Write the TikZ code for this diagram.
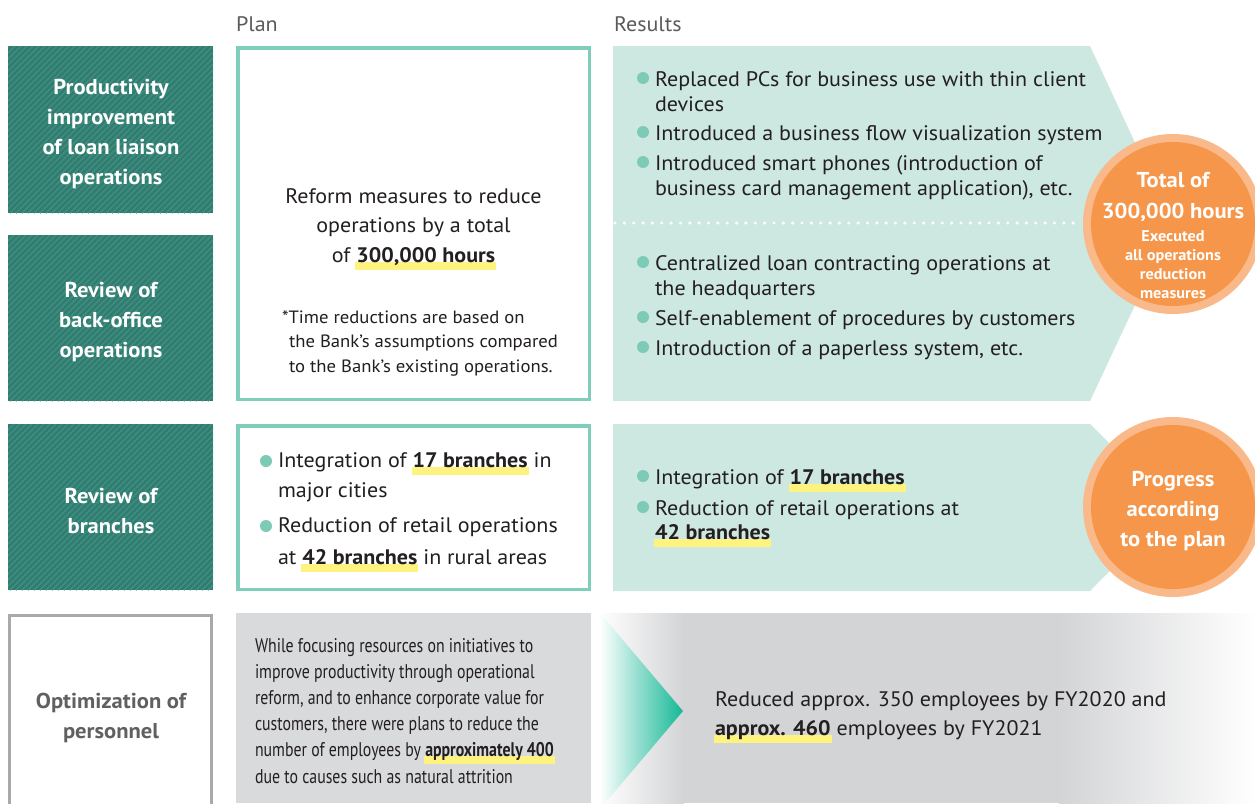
\documentclass[tikz,border=0pt]{standalone}
\usepackage{fontspec}
\setmainfont[FakeStretch=1.05]{PT Sans}
\newfontfamily\condfont[FakeStretch=0.8]{PT Sans}
\definecolor{ink}{RGB}{35,31,32}
\definecolor{labelgray}{RGB}{90,90,90}
\definecolor{tealdark}{RGB}{46,125,112}
\definecolor{tealstripe}{RGB}{64,141,127}
\definecolor{planborder}{RGB}{127,205,187}
\definecolor{resfill}{RGB}{205,232,224}
\definecolor{dotc}{RGB}{125,202,182}
\definecolor{orangein}{RGB}{245,150,74}
\definecolor{orangering}{RGB}{249,185,138}
\definecolor{hly}{RGB}{255,243,128}
\definecolor{grayfill}{RGB}{217,218,220}
\definecolor{graygrad}{RGB}{211,212,214}
\definecolor{grayborder}{RGB}{167,169,172}
\definecolor{graytext}{RGB}{96,96,96}
\definecolor{tritealc}{RGB}{20,184,150}
\newbox\hlbx
\newcommand\hl[1]{\setbox\hlbx=\hbox{#1}\rlap{\kern-1pt\textcolor{hly}{\rule[-7.5pt]{\dimexpr\wd\hlbx+2pt\relax}{8pt}}}\box\hlbx}
\newcommand\TL[2]{\vtop{\baselineskip=#1pt\lineskiplimit=-100pt\lineskip=0pt\halign{##\hfil\cr#2\crcr}}}
\newcommand\TC[2]{\vtop{\baselineskip=#1pt\lineskiplimit=-100pt\lineskip=0pt\halign{\hfil##\hfil\cr#2\crcr}}}
\tikzset{
  txt/.style={inner sep=0pt, outer sep=0pt, text=ink, font=\fontsize{21}{25}\selectfont},
  lt/.style={txt, anchor=base west},
  ct/.style={txt, anchor=base},
  wb/.style={inner sep=0pt, anchor=base, text=white, font=\fontsize{21.5}{30}\selectfont\bfseries},
  bul/.style={fill=dotc},
  hatchbox/.style={fill=tealdark},
  planbox/.style={draw=planborder, line width=3.5pt, fill=white},
  resbox/.style={fill=resfill},
}
\begin{document}
\begin{tikzpicture}[x=1pt, y=-1pt]
\useasboundingbox (0,0) rectangle (1255,803);
\fill[white] (0,0) rectangle (1255,803);

% column labels
\node[lt, text=labelgray] (plan) at (236,31) {Plan};
\node[lt, text=labelgray] (results) at (614,31) {Results};

% hatched left boxes
\foreach \ya/\yb in {46/213, 235/401, 424/590}{
  \fill[hatchbox] (8,\ya) rectangle (213,\yb);
  \begin{scope}
    \clip (8,\ya) rectangle (213,\yb);
    \foreach \i in {-200,-194,...,220}{
      \draw[tealstripe, line width=1.6pt] (\i,\yb) -- ++(200,-200);
    }
  \end{scope}
}
% grey-bordered left box
\draw[grayborder, line width=3pt] (9.5,808) -- (9.5,615.5) -- (211.5,615.5) -- (211.5,808);

% plan boxes
\draw[planbox] (237.75,47.75) rectangle (589.25,399.25);
\draw[planbox] (237.75,425.75) rectangle (589.25,589.25);
\fill[grayfill] (236,613) rectangle (591,803);

% results boxes
\fill[resbox] (613,46) -- (1090,46) -- (1173,224) -- (1090,401) -- (613,401) -- cycle;
\fill[resbox] (613,424) -- (1090,424) -- (1173,507) -- (1090,591) -- (613,591) -- cycle;
\foreach \i in {0,...,49}{
  \fill[white] (615+\i*9.35,223) circle (1.7);
}

% bottom results gradient
\shade[left color=white, right color=graygrad] (599,613) rectangle (684,803);
\fill[graygrad] (683,613) rectangle (1060,803);
\shade[left color=graygrad, right color=white] (1059,613) rectangle (1255,803);
\shade[left color=white, right color=tritealc] (600,613) -- (683,711) -- (600,809) -- cycle;

% circles
\fill[orangering] (1173,224) circle (90);
\fill[orangein] (1173,224) circle (82);
\fill[orangering] (1173,507) circle (90);
\fill[orangein] (1173,507) circle (82);

% left box texts
\node[wb] (lb1) at (111,94) {\TC{30}{Productivity\cr improvement\cr of loan liaison\cr operations}};
\node[wb] (lb2) at (111,297) {\TC{30}{Review of\cr back-office\cr operations}};
\node[wb] (lb3) at (111,503) {\TC{30}{Review of\cr branches}};
\node[wb, text=graytext] (lb4) at (111,708) {\TC{30}{Optimization of\cr personnel}};

% plan box 1
\node[ct] (p1) at (413.5,203) {\TC{29.5}{Reform measures to reduce\cr operations by a total\cr of \hl{\bfseries 300,000 hours}}};
\node[lt, font=\fontsize{17.8}{24.5}\selectfont] (fn) at (282,323) {\TL{24.5}{*Time reductions are based on\cr \kern7pt the Bank’s assumptions compared\cr \kern7pt to the Bank’s existing operations.}};

% plan box 2
\fill[bul] (266,461) circle (6);
\node[lt] (p2a) at (278,467) {\TL{30}{Integration of \hl{\bfseries 17 branches} in\cr major cities}};
\fill[bul] (266,526) circle (6);
\node[lt] (p2b) at (278,532) {\TL{32}{Reduction of retail operations\cr at \hl{\bfseries 42 branches} in rural areas}};

% plan box 4
\node[lt, font=\condfont\fontsize{19.8}{26.2}\selectfont] (p4) at (255,652) {\TL{26.2}{While focusing resources on initiatives to\cr improve productivity through operational\cr reform, and to enhance corporate value for\cr customers, there were plans to reduce the\cr number of employees by \hl{\bfseries approximately 400}\cr due to causes such as natural attrition}};

% results 1
\fill[bul] (643,78) circle (6);
\node[lt] (r1a) at (655,86) {\TL{25}{Replaced PCs for business use with thin client\cr devices}};
\fill[bul] (643,132) circle (6);
\node[lt] (r1b) at (655,140) {Introduced a business flow visualization system};
\fill[bul] (643,162) circle (6);
\node[lt] (r1c) at (655,170) {\TL{25}{Introduced smart phones (introduction of\cr business card management application), etc.}};
\fill[bul] (643,262) circle (6);
\node[lt] (r1d) at (655,270) {\TL{25}{Centralized loan contracting operations at\cr the headquarters}};
\fill[bul] (643,317) circle (6);
\node[lt] (r1e) at (655,325) {Self-enablement of procedures by customers};
\fill[bul] (643,347) circle (6);
\node[lt] (r1f) at (655,355) {Introduction of a paperless system, etc.};

% results 2
\fill[bul] (643,476) circle (6);
\node[lt] (r2a) at (655,484) {Integration of \hl{\bfseries 17 branches}};
\fill[bul] (643,507) circle (6);
\node[lt] (r2b) at (655,515) {\TL{24}{Reduction of retail operations at\cr \hl{\bfseries 42 branches}}};

% results 4
\node[lt] (r4) at (715,706) {\TL{29}{Reduced approx. 350 employees by FY2020 and\cr \hl{\bfseries approx. 460} employees by FY2021}};

% circle texts
\node[wb] (c1) at (1173,187) {\TC{31}{Total of\cr 300,000 hours}};
\node[wb, font=\fontsize{15.5}{19}\selectfont\bfseries] (c1s) at (1173,241) {\TC{19}{Executed\cr all operations\cr reduction\cr measures}};
\node[wb] (c2) at (1173,486) {\TC{30}{Progress\cr according\cr to the plan}};
\end{tikzpicture}
\end{document}
